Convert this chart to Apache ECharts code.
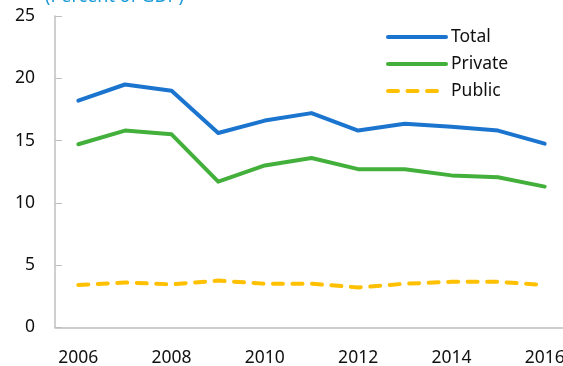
<!DOCTYPE html>
<html>
<head>
<meta charset="utf-8">
<script src="https://cdn.jsdelivr.net/npm/echarts@6/dist/echarts.min.js"></script>
<style>
  html, body { margin: 0; padding: 0; background: #fff; }
  #chart { width: 563px; height: 366px; }
</style>
</head>
<body>
<div id="chart"></div>
<script>
// Investment as a share of GDP, 2006-2016
const years = ['2006', '2007', '2008', '2009', '2010', '2011', '2012', '2013', '2014', '2015', '2016'];
const total = [18.2, 19.5, 19.0, 15.6, 16.6, 17.2, 15.8, 16.35, 16.1, 15.8, 14.75];
const privateInv = [14.7, 15.8, 15.5, 11.7, 13.0, 13.6, 12.7, 12.7, 12.2, 12.05, 11.3];
const publicInv = [3.4, 3.6, 3.45, 3.75, 3.5, 3.5, 3.2, 3.5, 3.65, 3.65, 3.4];
const yTicks = [0, 5, 10, 15, 20, 25];

const FONT = '"Noto Sans", "Open Sans", sans-serif';
const AXIS_GREY = '#bfbfbf';

const chart = echarts.init(document.getElementById('chart'), null, { renderer: 'canvas' });

chart.setOption({
  animation: false,
  textStyle: { fontFamily: FONT },
  graphic: [{
    type: 'text',
    left: 45,
    top: -12,
    z: 100,
    style: {
      text: '(Percent of GDP)',
      fontSize: 18,
      fontFamily: FONT,
      fill: '#1a9ad6'
    }
  }],
  legend: {
    orient: 'vertical',
    left: 381,
    top: 23,
    padding: 5,
    itemWidth: 58,
    itemHeight: 14,
    itemGap: 9,
    itemStyle: { opacity: 0 },
    lineStyle: { width: 4 },
    textStyle: { fontSize: 17.5, color: '#111', lineHeight: 18, fontFamily: FONT },
    data: ['Total', 'Private', 'Public']
  },
  grid: {
    left: 55,
    top: 16,
    width: 513,
    height: 311.3,
    outerBoundsMode: 'none',
    containLabel: false
  },
  xAxis: {
    type: 'category',
    data: years,
    boundaryGap: true,
    axisLine: { lineStyle: { color: AXIS_GREY, width: 1.5 } },
    axisTick: { inside: true, length: 5, interval: 0, lineStyle: { color: AXIS_GREY } },
    axisLabel: { interval: 1, fontSize: 17.5, color: '#111', margin: 22, fontFamily: FONT },
    splitLine: { show: false }
  },
  yAxis: {
    type: 'value',
    min: yTicks[0],
    max: yTicks[yTicks.length - 1],
    interval: 5,
    axisLine: { show: true, lineStyle: { color: AXIS_GREY, width: 1.5 } },
    axisTick: { show: true, inside: true, length: 7, lineStyle: { color: AXIS_GREY } },
    axisLabel: { fontSize: 17.5, color: '#111', margin: 20, fontFamily: FONT },
    splitLine: { show: false }
  },
  series: [
    {
      name: 'Total',
      type: 'line',
      data: total,
      symbol: 'none',
      color: '#1b75cf',
      lineStyle: { width: 4, cap: 'round', join: 'round' }
    },
    {
      name: 'Private',
      type: 'line',
      data: privateInv,
      symbol: 'none',
      color: '#44b03c',
      lineStyle: { width: 4, cap: 'round', join: 'round' }
    },
    {
      name: 'Public',
      type: 'line',
      data: publicInv,
      symbol: 'none',
      color: '#ffc000',
      lineStyle: { width: 4, cap: 'round', join: 'round', type: [10, 9.5] }
    }
  ]
});
</script>
</body>
</html>
